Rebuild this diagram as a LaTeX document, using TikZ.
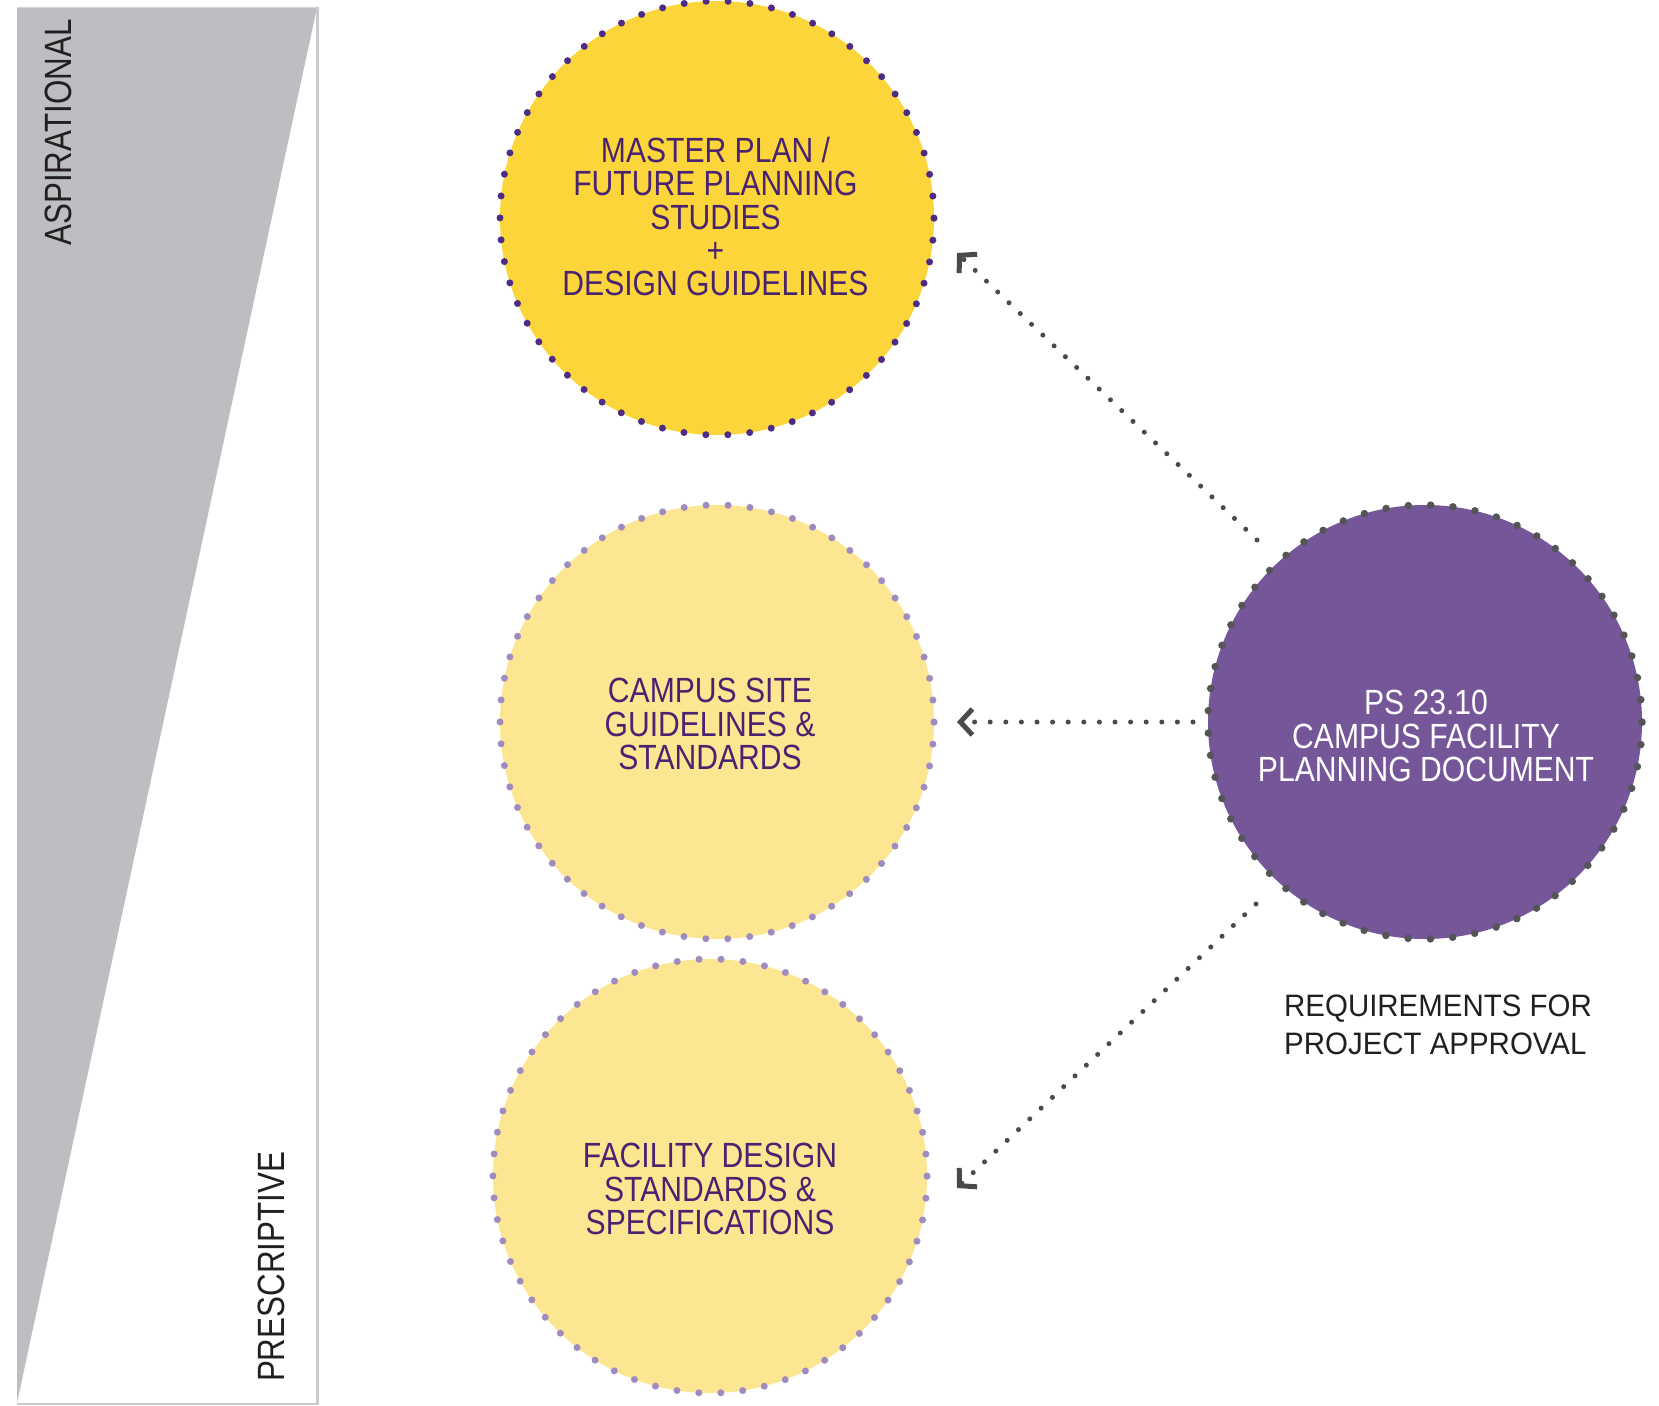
\documentclass[tikz,border=0pt]{standalone}
\usepackage{fontspec}
\usetikzlibrary{arrows.meta,calc}
\newfontfamily\condf{Liberation Sans}[FakeStretch=0.86]
\newfontfamily\sidef{Liberation Sans}[FakeStretch=0.825]
\newfontfamily\widef{Liberation Sans}[FakeStretch=0.95]
\definecolor{panelgray}{HTML}{BDBEC2}
\definecolor{panelline}{HTML}{C9CACC}
\definecolor{mpfill}{HTML}{FCD53B}
\definecolor{mpdot}{HTML}{4E2C86}
\definecolor{lightfill}{HTML}{FDE692}
\definecolor{lightdot}{HTML}{A08BC0}
\definecolor{psfill}{HTML}{745699}
\definecolor{psdot}{HTML}{555557}
\definecolor{txtpurple}{HTML}{4A2370}
\definecolor{arrgray}{HTML}{4A4A4C}
\definecolor{inkblack}{HTML}{231F20}
\begin{document}
\begin{tikzpicture}[x=1pt,y=-1pt,
  bubble/.style={circle, minimum size=434pt, inner sep=0pt, outer sep=0pt,
    line width=7pt, line cap=round, dash pattern=on 0pt off 21.99pt},
  ctext/.style={font=\condf\fontsize{35}{33.4}\selectfont, text=txtpurple,
    align=center, inner sep=0pt},
  sidelabel/.style={font=\sidef\fontsize{38}{40}\selectfont, text=inkblack,
    inner sep=0pt, rotate=90},
  reqtext/.style={font=\widef\fontsize{31}{38}\selectfont, text=inkblack,
    align=left, inner sep=0pt},
  conn/.style={draw=arrgray, line width=5pt, line cap=round,
    dash pattern=on 0pt off 15.6pt,
    -{Straight Barb[length=12pt,width=26pt,sharp]}}
]
\useasboundingbox (0,0) rectangle (1659,1405);
\fill[white] (0,0) rectangle (1659,1405);

% left panel
\fill[panelgray] (17,7.5) -- (317,7.5) -- (17,1403) -- cycle;
\draw[panelline, line width=2.5pt] (317.5,7.5) -- (317.5,1404) -- (17,1404);
\node[sidelabel] (asp) at (58.5,132.5) {ASPIRATIONAL};
\node[sidelabel] (pre) at (271,1267) {PRESCRIPTIVE};

% circles
\node[bubble, fill=mpfill, draw=mpdot] (mp) at (717,218) {};
\node[bubble, fill=lightfill, draw=lightdot] (cs) at (717,722) {};
\node[bubble, fill=lightfill, draw=lightdot] (fd) at (710,1176) {};
\node[bubble, fill=psfill, draw=psdot, line width=7.5pt,
      dash pattern=on 0pt off 22.35pt] (ps) at (1425,722) {};

% circle texts
\node[ctext] (mpt) at (715.5,216.5) {MASTER PLAN /\\FUTURE PLANNING\\STUDIES\\+\\DESIGN GUIDELINES};
\node[ctext] (cst) at (710,724) {CAMPUS SITE\\GUIDELINES \&\\STANDARDS};
\node[ctext] (fdt) at (710,1189) {FACILITY DESIGN\\STANDARDS \&\\SPECIFICATIONS};
\node[ctext, text=white] (pst) at (1426,736) {PS 23.10\\CAMPUS FACILITY\\PLANNING DOCUMENT};

% requirements label
\node[reqtext, anchor=north west] (req) at (1284,995) {REQUIREMENTS FOR\\PROJECT APPROVAL};

% connectors
\coordinate (a1s) at ($(ps.center)+(-168,-182)$);
\coordinate (a1e) at ($(mp.center)+(240,35)$);
\coordinate (a2s) at ($(ps.center)+(-232,0)$);
\coordinate (a2e) at ($(cs.center)+(240,0)$);
\coordinate (a3s) at ($(ps.center)+(-169,182)$);
\coordinate (a3e) at ($(fd.center)+(247,12)$);
\draw[conn] (a1s) -- (a1e);
\draw[conn] (a2s) -- (a2e);
\draw[conn] (a3s) -- (a3e);
\end{tikzpicture}
\end{document}
